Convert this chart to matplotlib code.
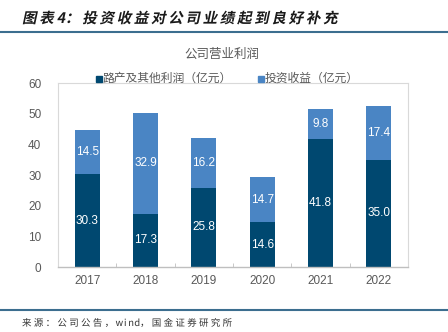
import matplotlib
matplotlib.use("Agg")
import matplotlib.pyplot as plt
from matplotlib.textpath import TextPath
from matplotlib.patches import PathPatch
from matplotlib.font_manager import FontProperties
from matplotlib.transforms import Affine2D
import numpy as np

plt.rcParams["font.family"] = ["Noto Sans CJK SC", "DejaVu Sans"]

years = ["2017", "2018", "2019", "2020", "2021", "2022"]
road_profit = [30.3, 17.3, 25.8, 14.6, 41.8, 35.0]
invest_income = [14.5, 32.9, 16.2, 14.7, 9.8, 17.4]

DARK = "#004870"
LIGHT = "#4a85c4"
GRAY = "#595959"
RULE = "#3c6e8f"

fig = plt.figure(figsize=(4.48, 3.32), dpi=100)
W, H = 448, 332

# plot area in pixel coordinates
left, right, top, bottom = 58, 408, 83, 267
ax = fig.add_axes([left / W, 1 - bottom / H, (right - left) / W, (bottom - top) / H])

x = np.arange(len(years))
ax.bar(x, road_profit, width=0.43, color=DARK, zorder=2)
ax.bar(x, invest_income, width=0.43, bottom=road_profit, color=LIGHT, zorder=2)

for i in range(len(years)):
    ax.text(x[i], road_profit[i] / 2, f"{road_profit[i]:.1f}", ha="center", va="center",
            color="white", fontsize=8.5, family=["Liberation Sans", "DejaVu Sans"])
    ax.text(x[i], road_profit[i] + invest_income[i] / 2, f"{invest_income[i]:.1f}",
            ha="center", va="center", color="white", fontsize=8.5,
            family=["Liberation Sans", "DejaVu Sans"])

ax.set_xlim(-0.5, len(years) - 0.5)
ax.set_ylim(0, 60)
ax.set_yticks(range(0, 61, 10))
ax.set_xticks(x)
ax.set_xticklabels(years)
ax.set_xticks(np.arange(-0.5, len(years)), minor=True)
ax.tick_params(axis="y", length=0, pad=12, labelsize=8.5, labelcolor=GRAY)
ax.tick_params(axis="x", which="major", length=0, pad=6, labelsize=8.5, labelcolor=GRAY)
ax.tick_params(axis="x", which="minor", length=3, color="#bfbfbf", direction="in")
for lab in ax.get_xticklabels() + ax.get_yticklabels():
    lab.set_family(["Liberation Sans", "DejaVu Sans"])
for side in ["left", "top", "right"]:
    ax.spines[side].set_color("#d9d9d9")
    ax.spines[side].set_linewidth(0.8)
ax.spines["bottom"].set_color("#bfbfbf")
ax.spines["bottom"].set_linewidth(1.0)

# chart caption and legend
fig.text(222 / W, 1 - 54 / H, "公司营业利润", ha="center", va="center", fontsize=9, color=GRAY)
fig.patches.append(plt.Rectangle((96 / W, 1 - 82 / H), 6 / W, 6 / H, color=DARK,
                                 transform=fig.transFigure, figure=fig))
fig.text(103 / W, 1 - 78.5 / H, "路产及其他利润（亿元）", ha="left", va="center",
         fontsize=8.5, color=GRAY)
fig.patches.append(plt.Rectangle((258 / W, 1 - 82 / H), 6 / W, 6 / H, color=LIGHT,
                                 transform=fig.transFigure, figure=fig))
fig.text(265 / W, 1 - 78.5 / H, "投资收益（亿元）", ha="left", va="center",
         fontsize=8.5, color=GRAY)


def spaced_text(s, x0, y0, size, full_step, prop, color, skew=0):
    # lay glyphs one by one on a fixed pitch; ASCII sits centred in half a step
    xpos = x0
    for ch in s:
        tp = TextPath((0, 0), ch, size=size, prop=prop)
        if ord(ch) < 128:
            step = full_step / 2
            ext = tp.get_extents()
            dx = (step - ext.width) / 2 - ext.x0
        else:
            step = full_step
            dx = 0
        path = Affine2D().skew_deg(skew, 0).translate(xpos + dx, y0).transform_path(tp)
        fig.patches.append(PathPatch(path, facecolor=color, edgecolor="none",
                                     transform=None, figure=fig))
        xpos += step


# slanted heading
fp_bold = FontProperties(family="Noto Sans CJK SC", weight="bold")
spaced_text("图表4：投资收益对公司业绩起到良好补充", 22, H - 23, 14.5, 17.2,
            fp_bold, "#1a1a1a", skew=12)

# rules under heading and above source
fig.add_artist(plt.Line2D([0, 1], [1 - 32 / H, 1 - 32 / H], color=RULE, lw=1.5,
                          transform=fig.transFigure))
fig.add_artist(plt.Line2D([0, 1], [1 - 310 / H, 1 - 310 / H], color=RULE, lw=1.5,
                          transform=fig.transFigure))

fp_reg = FontProperties(family="Noto Sans CJK SC")
spaced_text("来源：公司公告，wind，国金证券研究所", 22, H - 326, 9.5, 11.8,
            fp_reg, "#333333")

fig.savefig("out.png", dpi=100)
